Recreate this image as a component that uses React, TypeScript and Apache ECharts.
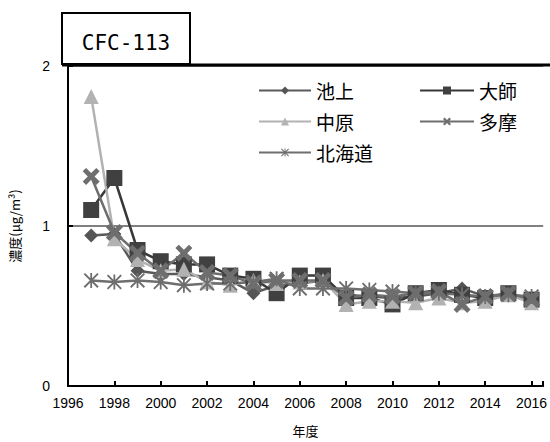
import React, { useEffect, useRef } from 'react';
import * as echarts from 'echarts';

const years = [1997, 1998, 1999, 2000, 2001, 2002, 2003, 2004, 2005, 2006, 2007, 2008, 2009, 2010, 2011, 2012, 2013, 2014, 2015, 2016];
const ikegami = [0.94, 0.95, 0.72, 0.70, 0.70, 0.68, 0.66, 0.58, 0.63, 0.64, 0.66, 0.57, 0.56, 0.55, 0.56, 0.58, 0.61, 0.56, 0.57, 0.55];
const daishi = [1.10, 1.30, 0.85, 0.78, 0.76, 0.76, 0.69, 0.67, 0.58, 0.69, 0.69, 0.55, 0.55, 0.51, 0.58, 0.60, 0.57, 0.55, 0.58, 0.54];
const nakahara = [1.81, 0.92, 0.79, 0.72, 0.73, 0.65, 0.63, 0.66, 0.64, 0.65, 0.66, 0.51, 0.53, 0.53, 0.52, 0.55, 0.52, 0.53, 0.57, 0.52];
const tama = [1.31, 0.96, 0.83, 0.72, 0.83, 0.71, 0.69, 0.64, 0.66, 0.66, 0.66, 0.55, 0.57, 0.56, 0.58, 0.59, 0.51, 0.56, 0.58, 0.54];
const hokkaido = [0.66, 0.65, 0.66, 0.65, 0.63, 0.64, 0.64, 0.65, 0.67, 0.61, 0.61, 0.61, 0.60, 0.59, 0.58, 0.58, 0.57, 0.56, 0.57, 0.56];

const seriesNames = ['池上', '大師', '中原', '多摩', '北海道'];
const chartTitle = 'CFC-113';
const yTitle = '濃度(μg/m³)';
const xTitle = '年度';

const FONT = '"Noto Sans CJK JP", "Noto Sans", sans-serif';
const NUM_FONT = '"Liberation Sans", Arial, sans-serif';

const X_PATH = 'path://M0,2 L2,0 L5,3 L8,0 L10,2 L7,5 L10,8 L8,10 L5,7 L2,10 L0,8 L3,5 Z';
const STAR_PATH = 'path://M4.4,0 L5.6,0 L5.6,10 L4.4,10 Z M0,0.9 L0.9,0 L10,9.1 L9.1,10 Z M9.1,0 L10,0.9 L0.9,10 L0,9.1 Z';

export default function App() {
  const ref = useRef<HTMLDivElement>(null);
  useEffect(() => {
    if (!ref.current) return;
    const chart = echarts.init(ref.current, null, { renderer: 'svg' });
    const mk = (vals: number[]) => years.map((y, i) => [y, vals[i]]);
    const defs = [
      { name: seriesNames[0], data: ikegami, symbol: 'diamond', size: 14, color: '#555555', line: '#5a5a5a' },
      { name: seriesNames[1], data: daishi, symbol: 'rect', size: 16, color: '#404040', line: '#383838' },
      { name: seriesNames[2], data: nakahara, symbol: 'triangle', size: 15, color: '#b2b2b2', line: '#b2b2b2' },
      { name: seriesNames[3], data: tama, symbol: X_PATH, size: 17, color: '#6e6e6e', line: '#6e6e6e' },
      { name: seriesNames[4], data: hokkaido, symbol: STAR_PATH, size: 15, color: '#6e6e6e', line: '#6e6e6e' },
    ];
    const legendText = { fontSize: 19, color: '#000', fontFamily: FONT };
    chart.setOption({
      animation: false,
      backgroundColor: '#ffffff',
      grid: { left: 62, top: 66, right: 0, bottom: 50, containLabel: false },
      legend: [
        {
          orient: 'vertical', left: 253, top: 76, itemWidth: 52, itemHeight: 10, itemGap: 12,
          data: [seriesNames[0], seriesNames[2], seriesNames[4]], textStyle: legendText,
        },
        {
          orient: 'vertical', left: 414, top: 76, itemWidth: 54, itemHeight: 10, itemGap: 12,
          data: [seriesNames[1], seriesNames[3]], textStyle: legendText,
        },
      ],
      xAxis: {
        type: 'value', min: 1996, max: 2016.5, interval: 2,
        name: xTitle, nameLocation: 'middle', nameGap: 38,
        nameTextStyle: { fontSize: 13, color: '#000', fontFamily: FONT },
        axisLine: { lineStyle: { color: '#000', width: 2 } },
        axisTick: { inside: true, length: 5, lineStyle: { color: '#000', width: 2 } },
        axisLabel: {
          fontSize: 14, color: '#000', fontFamily: NUM_FONT, margin: 10,
          formatter: (v: number) => (Number.isInteger(v) && v % 2 === 0 ? String(v) : ''),
        },
        splitLine: { show: false },
      },
      yAxis: {
        type: 'value', min: 0, max: 2, interval: 1,
        name: yTitle, nameLocation: 'middle', nameGap: 47, nameRotate: 90,
        nameTextStyle: { fontSize: 13, color: '#000', fontFamily: FONT },
        axisLine: { show: true, lineStyle: { color: '#000', width: 2 } },
        axisTick: { show: true, inside: true, length: 5, lineStyle: { color: '#000', width: 2 } },
        axisLabel: { fontSize: 14, color: '#000', fontFamily: NUM_FONT, margin: 18 },
        splitLine: { show: true, lineStyle: { color: '#808080', width: 2 } },
      },
      graphic: [
        { type: 'line', z: 100, shape: { x1: 62, y1: 65, x2: 550, y2: 65 }, style: { stroke: '#000', lineWidth: 3 } },
        { type: 'rect', z: 100, shape: { x: 62, y: 13, width: 128, height: 51 }, style: { fill: '#fff', stroke: '#000', lineWidth: 2 } },
        { type: 'text', z: 101, x: 126, y: 43, style: { text: chartTitle, fontSize: 21, fontFamily: '"DejaVu Sans Mono", monospace', fill: '#000', align: 'center', verticalAlign: 'middle' } },
      ],
      series: defs.map((d) => ({
        type: 'line',
        name: d.name,
        data: mk(d.data),
        symbol: d.symbol,
        symbolSize: d.size,
        showAllSymbol: true,
        itemStyle: { color: d.color },
        lineStyle: { color: d.line, width: 2.5 },
      })),
    });
    return () => chart.dispose();
  }, []);
  return <div ref={ref} style={{ position: 'fixed', left: 0, top: 0, width: 550, height: 442 }} />;
}
